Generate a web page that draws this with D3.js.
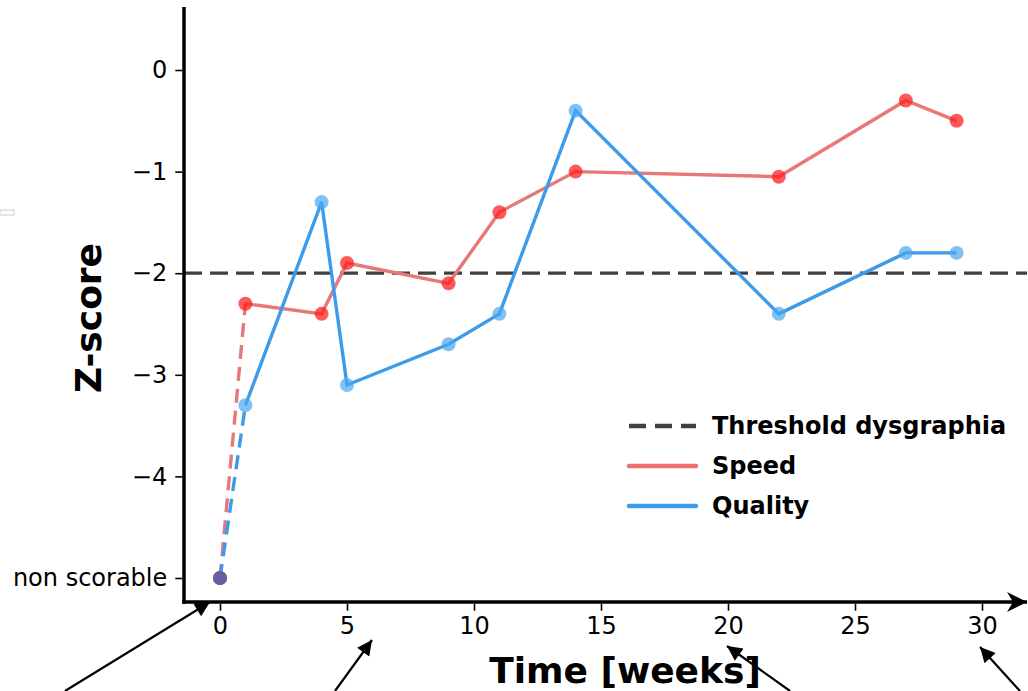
<!DOCTYPE html>
<html><head><meta charset="utf-8">
<script src="https://cdn.jsdelivr.net/npm/d3@7"></script>
<style>body{margin:0;background:#fff}svg{display:block;font-family:"DejaVu Sans",sans-serif}</style>
</head><body>
<script>
const weeks = [0, 1, 4, 5, 9, 11, 14, 22, 27, 29];
const speed = [-5, -2.3, -2.4, -1.9, -2.1, -1.4, -1.0, -1.05, -0.3, -0.5];
const quality = [-5, -3.3, -1.3, -3.1, -2.7, -2.4, -0.4, -2.4, -1.8, -1.8];
const threshold = -2;
const xTicks = [0, 5, 10, 15, 20, 25, 30];
const yTicks = [0, -1, -2, -3, -4, -5];
const yTickLabels = ["0", "\u22121", "\u22122", "\u22123", "\u22124", "non scorable"];
const legendItems = ["Threshold dysgraphia", "Speed", "Quality"];

const W = 1028, H = 691;
const svg = d3.select("body").append("svg").attr("width", W).attr("height", H);
const x = d3.scaleLinear().domain([0, 30]).range([220, 982]);
const y = d3.scaleLinear().domain([0, -5]).range([70, 578]);
const pLeft = 184, pBottom = 602, pTop = 7, pRight = 1027;

const defs = svg.append("defs");
defs.append("marker").attr("id", "ah").attr("viewBox", "0 0 10 10").attr("refX", 10).attr("refY", 5)
  .attr("markerWidth", 17).attr("markerHeight", 15).attr("markerUnits", "userSpaceOnUse")
  .attr("orient", "auto").append("path").attr("d", "M0,0L10,5L0,10z").attr("fill", "#000");
defs.append("marker").attr("id", "ah2").attr("viewBox", "0 0 10 10").attr("refX", 10).attr("refY", 5)
  .attr("markerWidth", 24).attr("markerHeight", 20).attr("markerUnits", "userSpaceOnUse")
  .attr("orient", "auto").append("path").attr("d", "M0,0L10,5L0,10L3,5z").attr("fill", "#000");

svg.append("rect").attr("x", 0).attr("y", 210).attr("width", 14).attr("height", 5)
  .attr("fill", "none").attr("stroke", "#ccc").attr("stroke-width", 1);

svg.append("line").attr("x1", pLeft).attr("x2", pRight).attr("y1", y(threshold)).attr("y2", y(threshold))
  .attr("stroke", "#404040").attr("stroke-width", 3.2).attr("stroke-dasharray", "18,8");

const line = d3.line().x(d => x(d[0])).y(d => y(d[1]));
function drawSeries(vals, lineColor, dotColor, dotOpacity) {
  const pts = weeks.map((w, i) => [w, vals[i]]);
  svg.append("path").attr("d", line(pts.slice(0, 2))).attr("fill", "none")
    .attr("stroke", lineColor).attr("stroke-width", 3.4).attr("stroke-dasharray", "14,8");
  svg.append("path").attr("d", line(pts.slice(1))).attr("fill", "none")
    .attr("stroke", lineColor).attr("stroke-width", 3.4);
  svg.selectAll(null).data(pts).enter().append("circle")
    .attr("cx", d => x(d[0])).attr("cy", d => y(d[1])).attr("r", 7)
    .attr("fill", dotColor).attr("fill-opacity", dotOpacity);
}
drawSeries(speed, "#e87878", "#ff2020", 0.75);
drawSeries(quality, "#3d9be9", "#4aa6f0", 0.7);
svg.append("circle").attr("cx", x(0)).attr("cy", y(-5)).attr("r", 7).attr("fill", "#6a5aa0");

svg.append("line").attr("x1", pLeft).attr("x2", pLeft).attr("y1", pTop).attr("y2", pBottom + 1.75)
  .attr("stroke", "#000").attr("stroke-width", 3.5);
svg.append("line").attr("x1", pLeft - 1.75).attr("x2", pRight).attr("y1", pBottom).attr("y2", pBottom)
  .attr("stroke", "#000").attr("stroke-width", 3.5).attr("marker-end", "url(#ah2)");

const xa = svg.append("g").attr("transform", `translate(0,${pBottom + 1.75})`)
  .call(d3.axisBottom(x).tickValues(xTicks).tickSize(7).tickPadding(6));
xa.select(".domain").remove();
xa.selectAll("text").attr("font-size", 24).attr("font-family", "DejaVu Sans").attr("fill", "#000");
xa.selectAll("line").attr("stroke-width", 1.6);

const ya = svg.append("g").attr("transform", `translate(${pLeft - 1.75},0)`)
  .call(d3.axisLeft(y).tickValues(yTicks).tickFormat((d, i) => yTickLabels[i]).tickSize(7).tickPadding(8));
ya.select(".domain").remove();
ya.selectAll("text").attr("font-size", 24).attr("font-family", "DejaVu Sans").attr("fill", "#000");
ya.selectAll("line").attr("stroke-width", 1.6);

svg.append("text").attr("transform", "translate(101,318) rotate(-90)").attr("text-anchor", "middle")
  .attr("font-size", 36).attr("font-weight", "bold").text("Z-score");
svg.append("text").attr("x", 625).attr("y", 683).attr("text-anchor", "middle")
  .attr("font-size", 36).attr("font-weight", "bold").text("Time [weeks]");

const lg = svg.append("g");
const lstyles = [{c: "#404040", d: "17,9"}, {c: "#ef7070", d: null}, {c: "#3d9be9", d: null}];
legendItems.forEach((t, i) => {
  const yy = 426 + i * 40;
  const l = lg.append("line").attr("x1", 629).attr("x2", 696).attr("y1", yy).attr("y2", yy)
    .attr("stroke", lstyles[i].c).attr("stroke-width", 4.5).attr("stroke-linecap", i ? "round" : "butt");
  if (lstyles[i].d) l.attr("stroke-dasharray", lstyles[i].d);
  lg.append("text").attr("x", 712).attr("y", yy + 8).attr("font-size", 24).attr("font-weight", "bold").text(t);
});

const arrows = [[65, 691, 210, 602], [335, 691, 372, 640], [790, 691, 727, 646], [1020, 691, 980, 647]];
arrows.forEach(a => {
  svg.append("line").attr("x1", a[0]).attr("y1", a[1]).attr("x2", a[2]).attr("y2", a[3])
    .attr("stroke", "#000").attr("stroke-width", 2.2).attr("marker-end", "url(#ah)");
});
</script>
</body></html>
